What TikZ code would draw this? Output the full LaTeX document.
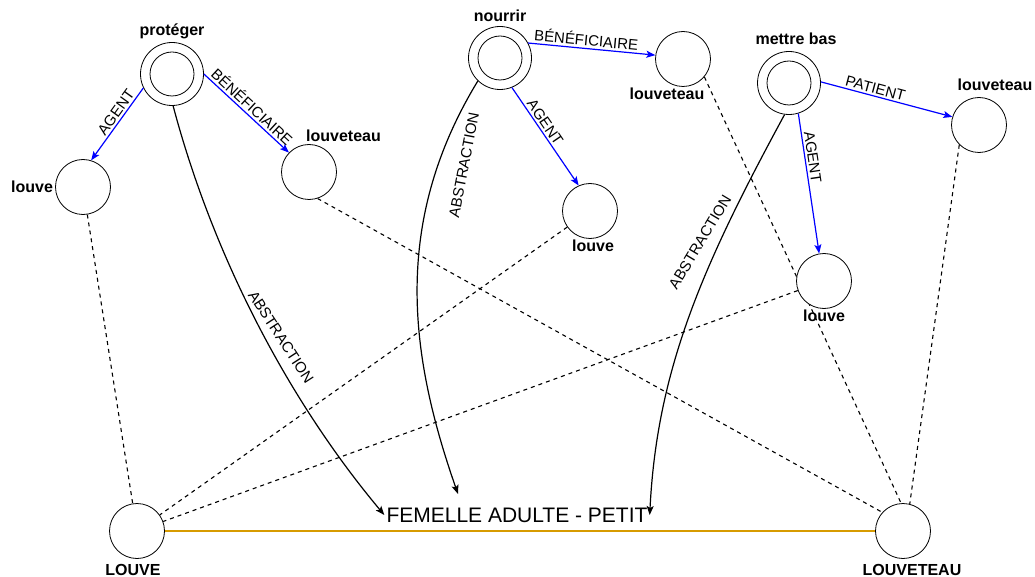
\documentclass[tikz,border=0pt]{standalone}
\usepackage{fontspec}
\setmainfont{Liberation Sans}
\usetikzlibrary{arrows.meta,positioning,backgrounds}

\definecolor{orangeline}{RGB}{215,155,0}

\begin{document}
\begin{tikzpicture}[
  x=1pt, y=-1pt,
  ent/.style={circle, draw, fill=white, line width=0.8pt, minimum size=55pt, inner sep=0pt},
  evt/.style={ent, minimum size=63pt,
              path picture={\draw[line width=0.8pt] (path picture bounding box.center) circle (22pt);}},
  lbl/.style={font=\fontsize{16}{18}\selectfont\bfseries, inner sep=1pt},
  rlab/.style={font=\fontsize{15}{17}\selectfont, inner sep=2pt},
  semrel/.style={draw=blue, line width=1.2pt, -{Stealth[length=9pt, width=7pt, inset=2pt]}},
  abst/.style={draw=black, line width=1.2pt, -{Stealth[length=9pt, width=7pt, inset=2pt]}},
  corr/.style={draw=black, line width=1.1pt, dash pattern=on 4pt off 4pt},
  proj/.style={draw=orangeline, line width=2pt}
]
\useasboundingbox (0,0) rectangle (1035,577);

% events
\node[evt] (prot) at (172,74) {};
\node[lbl, above=2pt of prot] (protN) {protéger};
\node[evt] (nour) at (500,58) {};
\node[lbl, above=3pt of nour] (nourN) {nourrir};
\node[evt] (mett) at (789,83) {};
\node[lbl, above=5pt of mett, xshift=7pt] (mettN) {mettre bas};

% participants
\node[ent] (louveA) at (83,187) {};
\node[lbl, left=1pt of louveA] (louveAN) {louve};
\node[ent] (louveteauA) at (309,172) {};
\node[lbl, above right=1pt and -4pt of louveteauA.north] (louveteauAN) {louveteau};
\node[ent] (louveteauB) at (683,59) {};
\node[lbl, below=0pt of louveteauB, xshift=-16pt] (louveteauBN) {louveteau};
\node[ent] (louveB) at (590,211) {};
\node[lbl, below=0pt of louveB, xshift=3pt] (louveBN) {louve};
\node[ent] (louveteauC) at (979,125) {};
\node[lbl, above=5pt of louveteauC, xshift=16pt] (louveteauCN) {louveteau};
\node[ent] (louveC) at (824,281) {};
\node[lbl, below=0pt of louveC] (louveCN) {louve};

% generic roles
\node[ent] (LOUVE) at (137,531) {};
\node[lbl, below=4pt of LOUVE, xshift=-4pt] (LOUVEN) {LOUVE};
\node[ent] (LOUVETEAU) at (903,531) {};
\node[lbl, below=4pt of LOUVETEAU, xshift=9pt] (LOUVETEAUN) {LOUVETEAU};
\node[font=\fontsize{21}{24}\selectfont, inner sep=2pt] (fem) at (517,515) {FEMELLE ADULTE - PETIT};
\coordinate (femN) at (458,494);

% roles
\draw[semrel] (prot.206) -- node[rlab, sloped, above, pos=0.4] (agA) {AGENT} (louveA.73);
\draw[semrel] (prot.0) -- node[rlab, sloped, above, pos=0.5] (benA) {BÉNÉFICIAIRE} (louveteauA.136);
\draw[semrel] (nour.28) -- node[rlab, sloped, above, pos=0.45] (benB) {BÉNÉFICIAIRE} (louveteauB.172);
\draw[semrel] (nour.292) -- node[rlab, sloped, above, pos=0.4] (agB) {AGENT} (louveB.114);
\draw[semrel] (mett.2) -- node[rlab, sloped, above, pos=0.4] (patC) {PATIENT} (louveteauC.163);
\draw[semrel] (mett.287) -- node[rlab, sloped, above, pos=0.32] (agC) {AGENT} (louveC.100);

% abstraction
\draw[abst] (prot.272) .. controls (213,256) and (288,400) .. (fem.west);
\node[rlab, rotate=-57] (absA) at (281,337) {ABSTRACTION};
\draw[abst] (nour.226) .. controls (392,222) and (409,354) .. (femN);
\node[rlab, rotate=79] (absB) at (464,165) {ABSTRACTION};
\draw[abst] (mett.262) .. controls (704,263) and (657,368) .. (fem.east);
\node[rlab, rotate=59] (absC) at (700,242) {ABSTRACTION};

% correspondences
\begin{scope}[on background layer]
\draw[corr] (louveA) -- (LOUVE);
\draw[corr] (louveB) -- (LOUVE);
\draw[corr] (louveC) -- (LOUVE);
\draw[corr] (louveteauA.-72) -- (LOUVETEAU.138);
\draw[corr] (louveteauB.-40) -- (LOUVETEAU.94);
\draw[corr] (louveteauC.225) -- (LOUVETEAU.76);
\end{scope}

\draw[proj] (LOUVE) -- (LOUVETEAU);
\end{tikzpicture}
\end{document}
